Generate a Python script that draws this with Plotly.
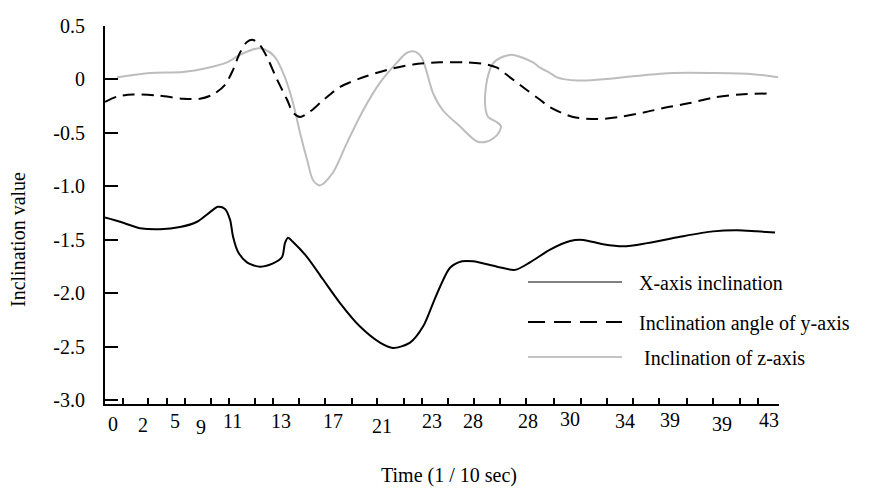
import plotly.graph_objects as go

# ---------------- data (time in 1/10 s axis units, inclination values) ----------------
x_axis_t = [-0.52, 0.46, 1.77, 3.08, 4.39, 5.51, 6.36, 6.88, 7.34, 7.67, 7.87, 8.19, 8.78, 9.64,
            10.49, 11.08, 11.27, 11.47, 11.80, 12.72, 13.77, 14.88, 16.19, 17.50, 18.35, 19.47,
            20.32, 20.98, 21.43, 22.09, 22.88, 23.60, 25.17, 26.35, 27.33, 28.65, 29.96, 30.81,
            32.12, 33.43, 35.00, 37.17, 39.33, 40.90, 42.21, 43.39]
x_axis_v = [-1.29, -1.33, -1.39, -1.40, -1.38, -1.33, -1.24, -1.19, -1.21, -1.31, -1.47, -1.61,
            -1.71, -1.75, -1.72, -1.66, -1.53, -1.48, -1.52, -1.66, -1.87, -2.09, -2.31, -2.46,
            -2.51, -2.46, -2.31, -2.09, -1.94, -1.76, -1.70, -1.70, -1.75, -1.78, -1.71, -1.59,
            -1.51, -1.50, -1.54, -1.56, -1.53, -1.47, -1.42, -1.41, -1.42, -1.43]

y_axis_t = [-0.52, 0.26, 1.31, 2.95, 4.59, 5.70, 6.56, 7.34, 7.87, 8.32, 8.78, 9.18, 9.64, 10.09,
            10.75, 11.41, 11.80, 12.26, 12.91, 13.57, 14.22, 14.88, 16.19, 17.96, 19.67, 21.43,
            23.20, 24.52, 25.17, 26.02, 27.14, 27.99, 28.65, 30.15, 31.73, 33.23, 34.74, 36.31,
            37.82, 39.33, 41.10, 43.26]
y_axis_v = [-0.21, -0.16, -0.14, -0.15, -0.18, -0.18, -0.14, -0.05, 0.09, 0.25, 0.35, 0.37, 0.32,
            0.21, 0.00, -0.19, -0.31, -0.35, -0.30, -0.22, -0.14, -0.07, 0.01, 0.09, 0.14, 0.16,
            0.16, 0.14, 0.11, 0.02, -0.10, -0.19, -0.26, -0.35, -0.37, -0.35, -0.31, -0.26, -0.22,
            -0.17, -0.14, -0.13]

z_axis_t = [0.26, 2.43, 4.59, 6.23, 7.47, 8.32, 9.44, 9.96, 10.62, 11.27, 11.80, 12.26, 12.72,
            13.11, 13.57, 14.42, 15.34, 16.39, 17.50, 18.62, 19.27, 19.80, 20.25, 20.58, 20.98,
            21.63, 22.75, 23.86, 24.52, 25.17, 25.43, 25.17, 24.58, 24.38, 24.52, 24.91, 25.50,
            26.22, 27.53, 27.99, 28.65, 29.10, 30.42, 31.92, 34.09, 36.71, 39.33, 41.95, 43.59]
z_axis_v = [0.02, 0.06, 0.07, 0.11, 0.16, 0.23, 0.29, 0.28, 0.21, 0.02, -0.22, -0.50, -0.75,
            -0.94, -0.99, -0.87, -0.59, -0.29, -0.03, 0.16, 0.25, 0.26, 0.20, 0.06, -0.13, -0.29,
            -0.44, -0.58, -0.58, -0.52, -0.44, -0.40, -0.35, -0.22, 0.00, 0.15, 0.21, 0.23, 0.16,
            0.11, 0.06, 0.02, -0.01, 0.00, 0.03, 0.06, 0.06, 0.05, 0.02]

x_tick_marks = [0.66, 2.29, 3.54, 4.72, 6.42, 7.60, 9.31, 10.49, 12.19, 13.90, 15.67, 17.30,
                19.07, 20.25, 21.96, 23.66, 25.37, 27.07, 28.91, 30.68, 32.38, 34.08, 35.79,
                37.62, 39.33, 41.10, 42.28, 43.60]
x_tick_labels = ["0", "2", "5", "9", "11", "13", "17", "21", "23", "28", "28", "30", "34",
                 "39", "39", "43"]
x_tick_label_pos = [0.00, 1.97, 4.06, 5.77, 7.80, 11.01, 14.42, 17.63, 20.91, 23.60, 27.20,
                    29.96, 33.56, 36.51, 39.92, 43.00]

y_tick_vals = [0.5, 0.0, -0.5, -1.0, -1.5, -2.0, -2.5, -3.0]
y_tick_text = ["0.5", "0", "-0.5", "-1.0", "-1.5", "-2.0", "-2.5", "-3.0"]

series_names = ["X-axis inclination", "Inclination angle of y-axis", "Inclination of z-axis"]

# ---------------- style / layout ----------------
FONT = "Liberation Serif, Times New Roman, serif"
FS = 20
label_yshift = [3, 4, 0, 6, 0, 0, 0, 5, 0, 0, 0, -2, 0, -1, 3, -1]  # vertical jitter of labels (px)

fig = go.Figure()
fig.add_trace(go.Scatter(x=z_axis_t, y=z_axis_v, mode="lines", name=series_names[2],
                         line=dict(color="#bdbdbd", width=2, shape="spline", smoothing=0.8),
                         showlegend=False))
fig.add_trace(go.Scatter(x=y_axis_t, y=y_axis_v, mode="lines", name=series_names[1],
                         line=dict(color="black", width=2, dash="12px,7px", shape="spline",
                                   smoothing=0.8),
                         showlegend=False))
fig.add_trace(go.Scatter(x=x_axis_t, y=x_axis_v, mode="lines", name=series_names[0],
                         line=dict(color="black", width=2, shape="spline", smoothing=0.8),
                         showlegend=False))

L, R, T, B = 105, 93, 26, 85
W, H = 872, 489
pw, ph = W - L - R, H - T - B


def px_x(p):
    return (p - L) / pw


def px_y(p):
    return (H - B - p) / ph


annotations = []
for lab, pos, sh in zip(x_tick_labels, x_tick_label_pos, label_yshift):
    annotations.append(dict(x=pos, y=0, xref="x", yref="paper", text=lab, showarrow=False,
                            xanchor="center", yanchor="middle", yshift=-(17 + sh),
                            font=dict(family=FONT, size=FS, color="black")))

annotations.append(dict(x=px_x(449), y=0, xref="paper", yref="paper", text="Time (1 / 10 sec)",
                        showarrow=False, xanchor="center", yanchor="middle", yshift=-71,
                        font=dict(family=FONT, size=FS, color="black")))
annotations.append(dict(x=px_x(18), y=px_y(240), xref="paper", yref="paper",
                        text="Inclination value", textangle=-90, showarrow=False,
                        xanchor="center", yanchor="middle",
                        font=dict(family=FONT, size=FS, color="black")))

# manual legend
leg_y = [282, 322, 357]
leg_text_x = [637, 637, 642]
leg_styles = [dict(color="#808080", width=2), dict(color="black", width=2, dash="17px,9px"),
              dict(color="#c4c4c4", width=2)]
shapes = []
for name, yy, tx, st in zip(series_names, leg_y, leg_text_x, leg_styles):
    shapes.append(dict(type="line", xref="paper", yref="paper", x0=px_x(528), x1=px_x(622),
                       y0=px_y(yy), y1=px_y(yy), line=st))
    annotations.append(dict(x=px_x(tx), y=px_y(yy + 1), xref="paper", yref="paper", text=name,
                            showarrow=False, xanchor="left", yanchor="middle",
                            font=dict(family=FONT, size=FS, color="black")))

fig.update_layout(
    width=W, height=H,
    margin=dict(l=L, r=R, t=T, b=B),
    paper_bgcolor="white", plot_bgcolor="white",
    font=dict(family=FONT, size=FS, color="black"),
    annotations=annotations, shapes=shapes,
    xaxis=dict(range=[-0.524, 43.65], showgrid=False, zeroline=False, showline=True,
               linecolor="black", linewidth=2, tickmode="array", tickvals=x_tick_marks,
               ticks="inside", ticklen=6, tickwidth=1.5, tickcolor="black",
               showticklabels=False),
    yaxis=dict(range=[-3.034, 0.5], showgrid=False, zeroline=False, showline=True,
               linecolor="black", linewidth=2, tickmode="array", tickvals=y_tick_vals,
               ticktext=y_tick_text, ticks="inside", ticklen=13, tickwidth=2,
               tickcolor="black", ticklabelstandoff=14,
               tickfont=dict(family=FONT, size=FS, color="black")),
)

fig.write_html("out.html")
